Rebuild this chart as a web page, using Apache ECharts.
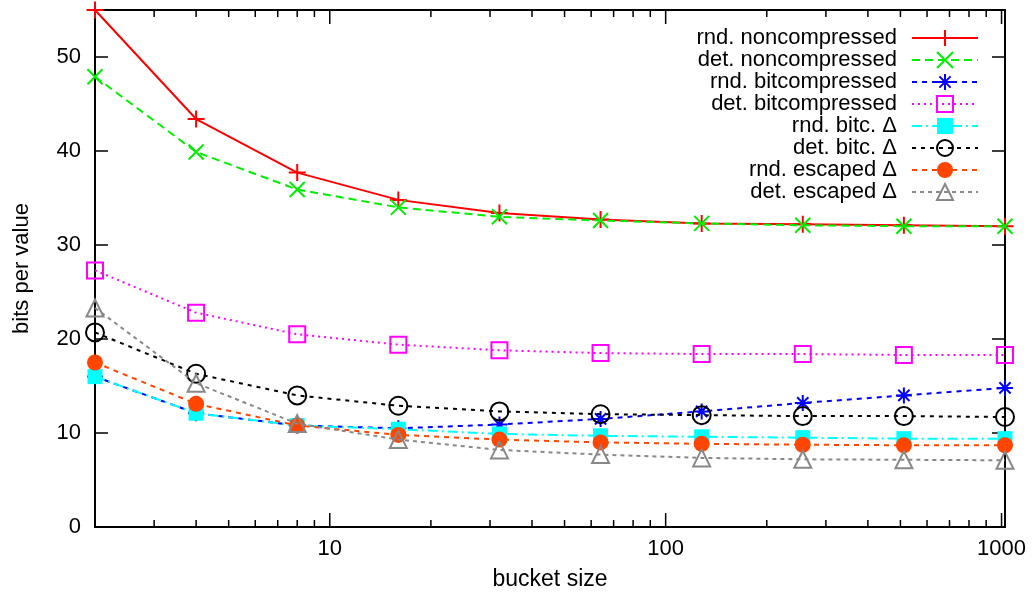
<!DOCTYPE html>
<html>
<head>
<meta charset="utf-8">
<script src="https://cdn.jsdelivr.net/npm/echarts@6/dist/echarts.min.js"></script>
<style>
html,body{margin:0;padding:0;background:#fff;}
#chart{width:1034px;height:598px;}
</style>
</head>
<body>
<div id="chart"></div>
<script>
// ---- data ----
const bucketSizes = [2, 4, 8, 16, 32, 64, 128, 256, 512, 1024];
const seriesNames = [
  'rnd. noncompressed', 'det. noncompressed', 'rnd. bitcompressed', 'det. bitcompressed',
  'rnd. bitc. \u0394', 'det. bitc. \u0394', 'rnd. escaped \u0394', 'det. escaped \u0394'
];
const rndNoncompressed = [55.0, 43.4, 37.7, 34.8, 33.4, 32.7, 32.3, 32.2, 32.1, 32.0];
const detNoncompressed = [47.9, 39.9, 35.9, 34.0, 33.0, 32.6, 32.3, 32.1, 32.0, 32.0];
const rndBitcompressed = [16.0, 12.1, 10.8, 10.5, 10.9, 11.5, 12.3, 13.2, 14.0, 14.8];
const detBitcompressed = [27.3, 22.8, 20.5, 19.4, 18.8, 18.5, 18.4, 18.4, 18.3, 18.3];
const rndBitcDelta     = [16.0, 12.1, 10.8, 10.4, 9.9, 9.7, 9.6, 9.5, 9.4, 9.4];
const detBitcDelta     = [20.7, 16.3, 14.0, 12.9, 12.3, 12.0, 11.9, 11.8, 11.8, 11.7];
const rndEscapedDelta  = [17.5, 13.1, 10.8, 9.8, 9.3, 9.0, 8.85, 8.75, 8.7, 8.7];
const detEscapedDelta  = [23.3, 15.3, 11.0, 9.3, 8.2, 7.7, 7.35, 7.2, 7.15, 7.1];
const xMajorTicks = [10, 100, 1000];
const xMinorTicks = [3, 4, 5, 6, 7, 8, 9, 20, 30, 40, 50, 60, 70, 80, 90, 200, 300, 400, 500, 600, 700, 800, 900];
const yTicks = [0, 10, 20, 30, 40, 50];

const FONT = 'Liberation Sans, Arial, Helvetica, sans-serif';
const allValues = [rndNoncompressed, detNoncompressed, rndBitcompressed, detBitcompressed,
                   rndBitcDelta, detBitcDelta, rndEscapedDelta, detEscapedDelta];

const styles = [
  {color: '#ff0000', dash: 'solid', symbol: 'path://M0,5L10,5M5,0L5,10', size: 17, hollow: true},
  {color: '#00ee00', dash: [8, 5], symbol: 'path://M0,0L10,10M10,0L0,10', size: 15, hollow: true},
  {color: '#0000ff', dash: [5, 5], symbol: 'path://M0,5L10,5M5,0L5,10M1.5,1.5L8.5,8.5M8.5,1.5L1.5,8.5', size: 16, hollow: true},
  {color: '#ff00ff', dash: [2, 4], symbol: 'rect', size: 16, hollow: true},
  {color: '#00ffff', dash: [10, 4, 2, 4], symbol: 'rect', size: 15, hollow: false},
  {color: '#000000', dash: [4, 5], symbol: 'circle', size: 18, hollow: true},
  {color: '#ff4500', dash: [5, 5], symbol: 'circle', size: 16, hollow: false},
  {color: '#888888', dash: [4, 4], symbol: 'triangle', size: 17, hollow: true}
];

const lineSeries = seriesNames.map((name, i) => {
  const st = styles[i];
  return {
    name: name,
    type: 'line',
    data: bucketSizes.map((x, j) => [x, allValues[i][j]]),
    symbol: st.symbol,
    symbolSize: st.size,
    showAllSymbol: true,
    clip: false,
    z: 2 + i,
    lineStyle: {color: st.color, width: 2, type: st.dash},
    itemStyle: st.hollow
      ? {color: 'rgba(0,0,0,0)', borderColor: st.color, borderWidth: 2}
      : {color: st.color, borderWidth: 0},
    emphasis: {disabled: true},
    animation: false
  };
});

const tickSeries = {
  type: 'custom',
  silent: true,
  clip: false,
  z: 20,
  animation: false,
  data: xMajorTicks.map(v => [v, 1]).concat(xMinorTicks.map(v => [v, 0])),
  renderItem: function (params, api) {
    const v = api.value(0);
    const major = api.value(1) === 1;
    const len = major ? 14 : 7;
    const b = api.coord([v, 0]);
    const t = api.coord([v, 55]);
    const style = {stroke: '#000', lineWidth: 1.5};
    return {
      type: 'group',
      children: [
        {type: 'line', shape: {x1: b[0], y1: b[1], x2: b[0], y2: b[1] - len}, style: style},
        {type: 'line', shape: {x1: t[0], y1: t[1], x2: t[0], y2: t[1] + len}, style: style}
      ]
    };
  }
};

const yAxisBase = {
  type: 'value', min: 0, max: 55, interval: 10,
  splitLine: {show: false},
  axisLine: {show: true, lineStyle: {color: '#000', width: 2}},
  axisTick: {show: true, inside: true, length: 13, lineStyle: {color: '#000', width: 1.5}}
};

const option = {
  backgroundColor: '#fff',
  animation: false,
  textStyle: {fontFamily: FONT},
  grid: {left: 95, right: 29, top: 10, bottom: 71, show: true, borderColor: '#000', borderWidth: 2, containLabel: false},
  legend: {
    data: seriesNames,
    orient: 'vertical',
    right: 50,
    top: 22,
    align: 'right',
    itemWidth: 66,
    itemHeight: 20,
    itemGap: 0,
    selectedMode: false,
    textStyle: {fontFamily: FONT, fontSize: 22, color: '#000', lineHeight: 21.7, padding: [0, 10, 0, 0]}
  },
  xAxis: {
    type: 'log', logBase: 10, min: 2, max: 1024,
    name: 'bucket size', nameLocation: 'middle', nameGap: 41,
    nameTextStyle: {fontFamily: FONT, fontSize: 23, color: '#000'},
    splitLine: {show: false},
    axisLine: {show: true, lineStyle: {color: '#000', width: 2}},
    axisTick: {show: false},
    axisLabel: {
      fontFamily: FONT, fontSize: 22, color: '#000', margin: 11,
      formatter: function (v) {
        const l = Math.log10(v);
        if (Math.abs(l - Math.round(l)) < 1e-6 && xMajorTicks.indexOf(Math.round(v)) >= 0) return String(Math.round(v));
        return '';
      }
    }
  },
  yAxis: [
    Object.assign({}, yAxisBase, {
      position: 'left',
      name: 'bits per value', nameLocation: 'middle', nameGap: 62, nameRotate: 90,
      nameTextStyle: {fontFamily: FONT, fontSize: 22, color: '#000'},
      axisLabel: {
        fontFamily: FONT, fontSize: 22, color: '#000', margin: 14,
        formatter: function (v) { return yTicks.indexOf(v) >= 0 ? String(v) : ''; }
      }
    }),
    Object.assign({}, yAxisBase, {position: 'right', axisLabel: {show: false}})
  ],
  series: lineSeries.concat([tickSeries])
};

const chart = echarts.init(document.getElementById('chart'), null, {renderer: 'canvas'});
chart.setOption(option);
</script>
</body>
</html>
